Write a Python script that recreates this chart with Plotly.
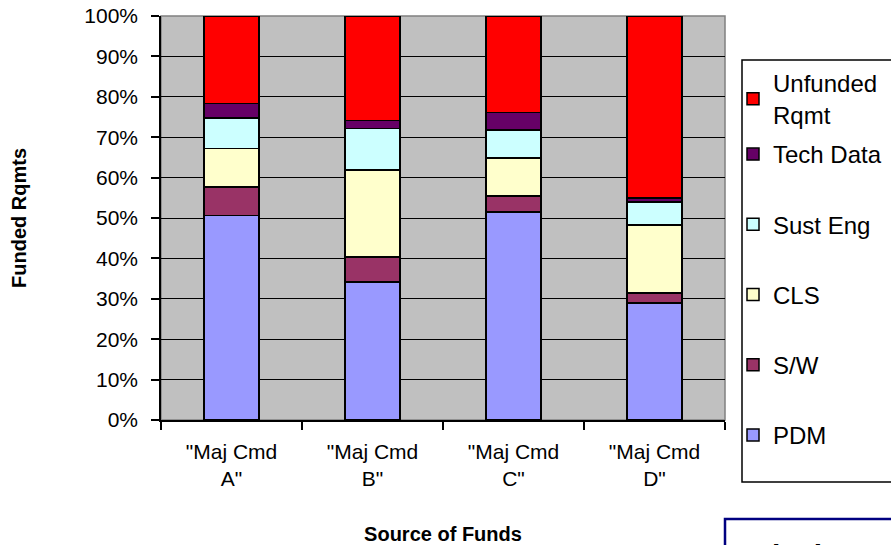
import plotly.graph_objects as go

categories = ['"Maj Cmd<br>A"', '"Maj Cmd<br>B"', '"Maj Cmd<br>C"', '"Maj Cmd<br>D"']

pdm = [50.6, 34.2, 51.5, 29.0]
sw = [7.1, 6.1, 3.9, 2.4]
cls = [9.5, 21.6, 9.5, 16.9]
sust_eng = [7.5, 10.3, 6.9, 5.7]
tech_data = [3.7, 1.9, 4.3, 1.0]
unfunded = [21.6, 25.9, 23.9, 45.0]

y_ticks = [0, 10, 20, 30, 40, 50, 60, 70, 80, 90, 100]
y_tick_labels = [f"{v}%" for v in y_ticks]

# name, values, colour, legend, legend rank
series = [
    ("PDM", pdm, "#9999FF", "legend2", 5),
    ("S/W", sw, "#993366", "legend2", 4),
    ("CLS", cls, "#FFFFCC", "legend2", 3),
    ("Sust Eng", sust_eng, "#CCFFFF", "legend2", 2),
    ("Tech Data", tech_data, "#660066", "legend2", 1),
    ("Unfunded<br>Rqmt", unfunded, "#FF0000", "legend", 0),
]

FONT = "Arial, Liberation Sans, sans-serif"
W, H = 891, 545
L, R, T, B = 161, 725, 16, 420


def px_x(x):
    return (x - L) / (R - L)


def px_y(y):
    return (B - y) / (B - T)


fig = go.Figure()
for name, vals, color, leg, rank in series:
    fig.add_trace(go.Bar(
        x=categories, y=vals, name=name,
        marker=dict(color=color, line=dict(color="black", width=1.5)),
        width=0.39, legend=leg, legendgroup=name, legendrank=rank,
    ))

fig.update_layout(
    width=W, height=H,
    margin=dict(l=L, r=W - R, t=T, b=H - B, autoexpand=False),
    barmode="stack",
    bargap=0.61,
    showlegend=True,
    paper_bgcolor="white",
    plot_bgcolor="#C0C0C0",
    font=dict(family=FONT, size=20, color="black"),
    xaxis=dict(
        tickson="boundaries", ticks="outside", ticklen=8, tickcolor="black",
        tickwidth=1.5, showline=True, linecolor="black", linewidth=1.5,
        showgrid=False, automargin=False, ticklabelstandoff=12,
        title=dict(text="<b>Source of Funds</b>", font=dict(size=20), standoff=43),
        tickfont=dict(size=21),
    ),
    yaxis=dict(
        range=[0, 100], tickvals=y_ticks, ticktext=y_tick_labels,
        ticks="outside", ticklen=8, tickcolor="black", tickwidth=1.5,
        showline=True, linecolor="black", linewidth=1.5,
        showgrid=True, gridcolor="black", gridwidth=1.2,
        tickfont=dict(size=21), automargin=False, ticklabelstandoff=9,
        title=dict(text="<b>Funded Rqmts</b>", font=dict(size=20), standoff=52),
        zeroline=False,
    ),
    legend=dict(
        xref="container", yref="container",
        x=733 / W, y=1 - 61 / H, xanchor="left", yanchor="top",
        bgcolor="rgba(0,0,0,0)", borderwidth=0, maxheight=200,
        font=dict(size=24), traceorder="normal",
    ),
    legend2=dict(
        xref="container", yref="container",
        x=733 / W, y=1 - 132 / H, xanchor="left", yanchor="top",
        bgcolor="rgba(0,0,0,0)", borderwidth=0, maxheight=400,
        font=dict(size=24), traceorder="grouped", tracegroupgap=36,
    ),
    shapes=[
        dict(type="rect", xref="paper", yref="paper", x0=0, x1=1, y0=0, y1=1,
             line=dict(color="#808080", width=1.5), layer="below"),
        dict(type="rect", xref="paper", yref="paper",
             x0=px_x(742), x1=px_x(905), y0=px_y(482), y1=px_y(60),
             line=dict(color="black", width=1.5)),
        dict(type="rect", xref="paper", yref="paper",
             x0=px_x(725), x1=px_x(905), y0=px_y(570), y1=px_y(519),
             line=dict(color="#000080", width=2.5)),
    ],
    annotations=[
        dict(text="<b>Mission</b>", xref="paper", yref="paper",
             x=px_x(745), y=px_y(536.5), xanchor="left", yanchor="top",
             showarrow=False, font=dict(size=30, color="black")),
    ],
)

fig.write_html(
    "out.html",
    config={"displayModeBar": False},
    post_script="document.body.style.margin='0';document.body.style.overflow='hidden';",
)
